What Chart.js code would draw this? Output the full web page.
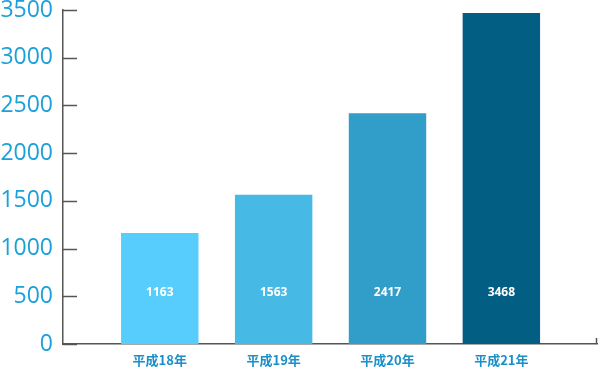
<!DOCTYPE html>
<html>
<head>
<meta charset="utf-8">
<script src="https://cdn.jsdelivr.net/npm/chart.js@4"></script>
<style>
  html, body { margin: 0; padding: 0; background: #fff; }
  #wrap { width: 600px; height: 369px; position: relative; }
</style>
</head>
<body>
<div id="wrap"><canvas id="chart"></canvas></div>
<script>
// data
var categories = ['平成18年', '平成19年', '平成20年', '平成21年'];
var values = [1163, 1563, 2417, 3468];
var barColors = ['#56cdfd', '#46b9e4', '#309ec8', '#035e83'];
var yTicks = [0, 500, 1000, 1500, 2000, 2500, 3000, 3500];

var axisColor = '#555';
var labelColor = '#1ba0d8';

var points = values.map(function(v, i) {
  return { x: i, y: v };
});

// inner tick marks on the y axis, small end tick on x axis, values inside bars
var decorPlugin = {
  id: 'decor',
  afterDraw: function(chart) {
    var ctx = chart.ctx;
    var y = chart.scales.y;
    var area = chart.chartArea;
    ctx.save();
    ctx.strokeStyle = axisColor;
    ctx.lineWidth = 1.5;
    yTicks.forEach(function(t) {
      var py = Math.round(y.getPixelForValue(t)) + 0.5;
      ctx.beginPath();
      ctx.moveTo(area.left, py);
      ctx.lineTo(area.left + 14, py);
      ctx.stroke();
    });
    ctx.beginPath();
    ctx.moveTo(area.right - 0.5, area.bottom);
    ctx.lineTo(area.right - 0.5, area.bottom - 6);
    ctx.stroke();

    // value labels
    var meta = chart.getDatasetMeta(0);
    ctx.fillStyle = '#fff';
    ctx.font = 'bold 12px "Open Sans"';
    ctx.textAlign = 'center';
    ctx.textBaseline = 'middle';
    meta.data.forEach(function(bar, i) {
      ctx.fillText(String(values[i]), bar.x, area.bottom - 51);
    });
    ctx.restore();
  }
};

new Chart(document.getElementById('chart'), {
  type: 'bar',
  data: {
    datasets: [{
      data: points,
      backgroundColor: barColors,
      borderWidth: 0,
      barPercentage: 0.68,
      categoryPercentage: 1.0
    }]
  },
  options: {
    responsive: true,
    maintainAspectRatio: false,
    animation: false,
    layout: { padding: { top: 10, right: 3, left: 0, bottom: 0 } },
    plugins: {
      legend: { display: false },
      tooltip: { enabled: false }
    },
    scales: {
      x: {
        type: 'linear',
        offset: false,
        min: -0.85,
        max: 3.84,
        grid: { display: false, drawTicks: false },
        border: { display: true, color: axisColor, width: 1.5 },
        ticks: {
          stepSize: 1,
          includeBounds: false,
          autoSkip: false,
          maxRotation: 0,
          padding: 8,
          color: '#1a8fc8',
          font: { family: '"Noto Sans CJK JP", "Noto Sans"', size: 13, weight: 'bold' },
          callback: function(v) {
            return Number.isInteger(v) && categories[v] ? categories[v] : '';
          }
        },
        afterFit: function(scale) {
          scale.height = 25;
          scale.paddingLeft = 0;
          scale.paddingRight = 0;
        }
      },
      y: {
        min: 0,
        max: 3500,
        grid: { display: false, drawTicks: false },
        border: { display: true, color: axisColor, width: 1.5 },
        ticks: {
          stepSize: 500,
          padding: 10,
          color: labelColor,
          font: { family: '"Open Sans"', size: 23 },
          callback: function(v) { return String(v); }
        },
        afterFit: function(scale) {
          scale.width = 63;
          scale.paddingTop = 0;
          scale.paddingBottom = 0;
        }
      }
    }
  },
  plugins: [decorPlugin]
});
</script>
</body>
</html>
